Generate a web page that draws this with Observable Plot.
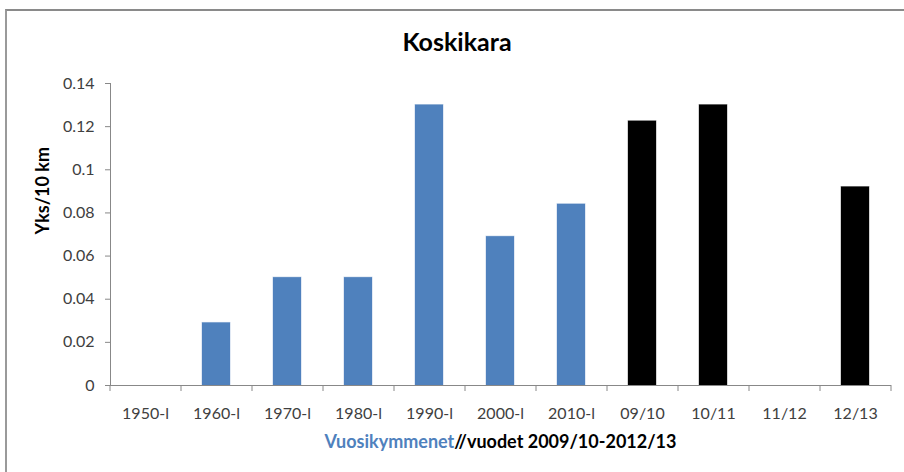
<!DOCTYPE html>
<html>
<head>
<meta charset="utf-8">
<script src="https://cdn.jsdelivr.net/npm/d3@7"></script>
<script src="https://cdn.jsdelivr.net/npm/@observablehq/plot@0.6"></script>
<style>
  html, body { margin: 0; padding: 0; background: #fff; }
  body { width: 904px; height: 472px; position: relative; overflow: hidden; font-family: Lato, "Open Sans", sans-serif; }
  #frame { position: absolute; left: 5px; top: 9px; width: 1000px; height: 600px; border-left: 2px solid #9a9a9a; border-top: 2px solid #8a8a8a; box-sizing: border-box; }
  #title { position: absolute; left: 0; width: 914px; top: 26px; text-align: center; font-weight: bold; font-size: 25px; color: #000; }
  #chart { position: absolute; left: 0; top: 0; }
  #xlabel { position: absolute; left: 110px; width: 781px; top: 430px; text-align: center; font-weight: bold; font-size: 18px; color: #000; }
  #xlabel .blue { color: #4F81BD; }
</style>
</head>
<body>
<div id="frame"></div>
<div id="title">Koskikara</div>
<div id="chart"></div>
<div id="xlabel"><span class="blue">Vuosikymmenet</span>//vuodet 2009/10-2012/13</div>
<script>
const categories = ["1950-l", "1960-l", "1970-l", "1980-l", "1990-l", "2000-l", "2010-l", "09/10", "10/11", "11/12", "12/13"];
const values = [0, 0.029, 0.05, 0.05, 0.13, 0.069, 0.084, 0.1225, 0.13, 0, 0.092];
const groups = ["decade", "decade", "decade", "decade", "decade", "decade", "decade", "year", "year", "year", "year"];
const yTicks = [0, 0.02, 0.04, 0.06, 0.08, 0.1, 0.12, 0.14];

const data = categories.map((c, i) => ({category: c, value: values[i], group: groups[i]}));
const step = 781 / categories.length;
const axisColor = "#888";
const textColor = "#404040";

const chart = Plot.plot({
  width: 904,
  height: 430,
  marginLeft: 110,
  marginRight: 13,
  marginTop: 83,
  marginBottom: 45,
  style: {fontFamily: "Lato, 'Open Sans', sans-serif", fontSize: "16px", color: textColor, background: "transparent"},
  x: {domain: categories, paddingInner: 0.6, paddingOuter: 0.3},
  y: {domain: [0, 0.14]},
  color: {domain: ["decade", "year"], range: ["#4F81BD", "#000000"]},
  marks: [
    Plot.barY(data, {x: "category", y: "value", fill: "group", stroke: "group", strokeOpacity: 0.35, strokeWidth: 1}),
    Plot.ruleY([0], {stroke: axisColor, strokeWidth: 1.2}),
    Plot.frame({anchor: "left", stroke: axisColor}),
    Plot.axisY({ticks: yTicks, tickSize: 5, tickPadding: 11, tickFormat: d3.format("~g"), stroke: axisColor, fill: textColor, fontSize: 16, label: null}),
    Plot.axisX({tickSize: 6, dx: -step / 2, tickFormat: () => "", stroke: axisColor, label: null}),
    Plot.axisX({ticks: [categories[categories.length - 1]], tickSize: 6, dx: step / 2, tickFormat: () => "", stroke: axisColor, label: null}),
    Plot.axisX({tickSize: 0, tickPadding: 22, fill: textColor, fontSize: 16, label: null}),
    Plot.text(["Yks/10 km"], {frameAnchor: "left", dx: -67, rotate: -90, fontWeight: "bold", fontSize: 18, fill: "#000"})
  ]
});
document.getElementById("chart").appendChild(chart);
</script>
</body>
</html>
